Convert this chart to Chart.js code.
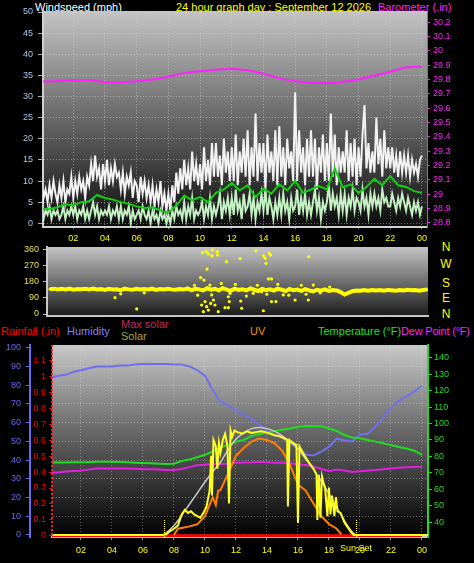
<!DOCTYPE html>
<html>
<head>
<meta charset="utf-8">
<script src="https://cdn.jsdelivr.net/npm/chart.js@4.4.1/dist/chart.umd.min.js"></script>
<style>
  body { margin: 0; background: #000; width: 474px; height: 563px; overflow: hidden; position: relative;
         font-family: "Liberation Sans", Arial, sans-serif; font-size: 11px; }
  canvas { position: absolute; left: 0; top: 0; }
  .t { position: absolute; white-space: nowrap; line-height: 12px; }
  .dir { position: absolute; left: 439px; width: 14px; text-align: center; color: #ffff00; font-size: 12px; line-height: 14px; }
</style>
</head>
<body>
<div class="t" style="left:35px;top:1px;color:#fff">Windspeed (mph)</div>
<div class="t" style="left:176px;top:1px;color:#ffff00">24 hour graph day : September 12 2026</div>
<div class="t" style="left:378px;top:1px;color:#ff20ff">Barometer (.in)</div>

<div class="dir" style="top:240px">N</div>
<div class="dir" style="top:257px">W</div>
<div class="dir" style="top:276px">S</div>
<div class="dir" style="top:291px">E</div>
<div class="dir" style="top:307px">N</div>

<div class="t" style="left:1px;top:325px;color:#ff0000">Rainfall (.in)</div>
<div class="t" style="left:67px;top:325px;color:#8080ff">Humidity</div>
<div class="t" style="left:121px;top:318px;color:#c8285a">Max solar</div>
<div class="t" style="left:121px;top:330px;color:#a8a830">Solar</div>
<div class="t" style="left:250px;top:325px;color:#ff8c00">UV</div>
<div class="t" style="left:318px;top:325px;color:#20e020">Temperature (°F)</div>
<div class="t" style="left:401px;top:325px;color:#ff20ff;letter-spacing:-0.2px">Dew Point (°F)</div>

<canvas id="wind" width="474" height="563"></canvas>
<canvas id="dir" width="474" height="563"></canvas>
<canvas id="weather" width="474" height="563"></canvas>

<script>
// ---- axis ticks ----
const hourTicks = [2, 4, 6, 8, 10, 12, 14, 16, 18, 20, 22, 24];
const windTicks = [0, 5, 10, 15, 20, 25, 30, 35, 40, 45, 50];
const baroTicks = [28.8, 28.9, 29, 29.1, 29.2, 29.3, 29.4, 29.5, 29.6, 29.7, 29.8, 29.9, 30, 30.1, 30.2];
const dirTicks = [0, 90, 180, 270, 360];
const humTicks = [0, 10, 20, 30, 40, 50, 60, 70, 80, 90, 100];
const rainTicks = [0, 0.1, 0.2, 0.3, 0.4, 0.5, 0.6, 0.7, 0.8, 0.9, 1, 1.1];
const tempTicks = [40, 50, 60, 70, 80, 90, 100, 110, 120, 130, 140];

// ---- wind (mph), 8 readings per hour ----
const windGust = [
  9, 6, 8, 5, 9, 6, 10, 7,
  5, 9, 6, 10, 5, 8, 7, 11,
  6, 10, 7, 11, 8, 10, 6, 11,
  9, 14, 10, 16, 11, 13, 8, 14,
  10, 15, 9, 13, 10, 14, 11, 12,
  8, 12, 7, 11, 9, 12, 6, 10,
  9, 5, 11, 7, 10, 6, 9, 5,
  9, 4, 8, 5, 10, 4, 7, 3,
  7, 3, 9, 5, 12, 7, 13, 8,
  15, 9, 13, 8, 17, 10, 14, 9,
  14, 8, 18, 10, 15, 9, 19, 11,
  19, 11, 16, 9, 20, 12, 17, 10,
  18, 10, 21, 9, 17, 12, 20, 11,
  22, 9, 18, 11, 26, 10, 19, 12,
  19, 8, 21, 12, 17, 10, 22, 9,
  23, 11, 18, 9, 20, 13, 17, 10,
  31, 10, 22, 12, 18, 9, 20, 11,
  22, 11, 20, 8, 18, 12, 21, 10,
  19, 10, 26, 11, 21, 9, 18, 12,
  17, 12, 22, 10, 19, 11, 20, 9,
  18, 11, 21, 28, 13, 19, 12, 17,
  12, 25, 14, 20, 11, 22, 13, 18,
  13, 18, 12, 16, 11, 17, 12, 16,
  12, 16, 11, 15, 12, 14, 11, 15,
  16
];
const windLull = [
  3, 1, 3, 2, 4, 1, 3, 2,
  3, 1, 2, 4, 1, 3, 2, 4,
  2, 4, 1, 3, 2, 4, 1, 3,
  1, 3, 5, 2, 4, 1, 3, 2,
  3, 2, 4, 1, 3, 2, 4, 1,
  4, 1, 3, 2, 4, 0, 3, 1,
  2, 3, 1, 4, 2, 1, 3, 0,
  3, 1, 2, 0, 3, 1, 2, 0,
  2, 0, 3, 1, 4, 2, 3, 1,
  5, 1, 4, 2, 6, 1, 3, 2,
  3, 5, 1, 4, 2, 6, 1, 4,
  2, 4, 7, 1, 5, 3, 6, 2,
  6, 2, 8, 3, 5, 1, 7, 3,
  4, 7, 2, 6, 1, 5, 3, 7,
  3, 8, 2, 6, 4, 1, 5, 2,
  6, 2, 7, 3, 5, 1, 6, 3,
  4, 8, 2, 6, 3, 7, 2, 5,
  2, 5, 8, 3, 6, 1, 5, 3,
  5, 9, 3, 7, 4, 6, 2, 7,
  3, 7, 2, 6, 4, 8, 3, 6,
  5, 3, 8, 4, 6, 2, 7, 4,
  7, 4, 6, 3, 8, 5, 6, 4,
  4, 7, 5, 3, 6, 4, 7, 5,
  3, 6, 4, 2, 5, 3, 5, 2,
  4
];
// average wind, every half hour
const windAvg = [3.5, 3.3, 3.8, 4.5, 4.2, 5.0, 5.2, 6.7, 6.0, 5.6, 5.0, 4.6, 4.0, 3.6, 3.8, 3.0, 2.5, 4.2, 6.5, 5.5,
  6.2, 5.0, 7.2, 8.0, 9.5, 7.8, 9.0, 6.2, 8.2, 7.0, 9.2, 7.8, 10.0, 7.2, 8.0, 8.8, 8.0, 13.0, 8.5, 9.2,
  7.2, 8.6, 10.5, 9.0, 11.2, 9.0, 8.6, 7.6, 7.2];
// barometer (.in), hourly
const baroHourly = [29.786, 29.79, 29.795, 29.795, 29.782, 29.78, 29.788, 29.80, 29.822, 29.845, 29.86, 29.868,
  29.876, 29.865, 29.84, 29.81, 29.79, 29.776, 29.775, 29.785, 29.80, 29.828, 29.855, 29.885, 29.89];

// ---- wind direction (deg), every 15 minutes ----
const dirBand = [
  138, 141, 136, 140, 137, 142, 135, 139, 138,
  140, 136, 141, 137, 139, 134, 140, 136,
  138, 133, 141, 137, 135, 140, 136, 139,
  137, 141, 134, 139, 136, 140, 137, 135,
  139, 136, 142, 133, 140, 137, 131, 143,
  135, 140, 132, 144, 136, 129, 141, 134,
  138, 131, 142, 135, 128, 140, 133, 137,
  130, 141, 135, 127, 139, 132, 136, 129,
  138, 131, 126, 135, 130, 137, 128, 133,
  131, 122, 108, 118, 127, 131, 129, 133,
  130, 134, 131, 133, 129, 134, 132, 130,
  133, 131, 135, 132, 134, 130, 133, 136
];
// scattered direction readings [hour, deg]
const dirOutliers = [
  [9.7, 341], [9.93, 347], [10.08, 334], [10.33, 356], [10.31, 323], [10.65, 347], [10.67, 328], [11.24, 291],
  [12.1, 308], [13.1, 352], [13.6, 323], [13.7, 310], [13.75, 282], [13.96, 338], [14.05, 328], [13.9, 195],
  [14.1, 195], [16.47, 319], [10.0, 250], [9.59, 202], [9.8, 189],
  [5.52, 28], [4.14, 91], [9.65, 50], [9.87, 69], [9.97, 41], [9.76, 13], [10.08, 22], [10.23, 59], [10.4, 78],
  [10.5, 50], [10.29, 106], [10.18, 161], [10.71, 13], [11.14, 35], [11.35, 35], [11.41, 69], [11.35, 96],
  [11.46, 115], [12.14, 72], [12.2, 32], [13.58, 18], [14.1, 69], [14.38, 69], [12.94, 115], [13.47, 124],
  [14.85, 106], [15.6, 78], [16.44, 78], [16.76, 161],
  [4.5, 112], [6.0, 118], [9.2, 160], [9.4, 105], [10.9, 170], [11.8, 165], [12.5, 100], [13.2, 160],
  [13.8, 110], [14.5, 165], [15.2, 105], [16.0, 160], [16.3, 110], [17.2, 118], [17.8, 150]
];

// ---- lower panel, every half hour ----
const humidity = [84, 85, 85.5, 87, 88, 89, 90, 90, 90, 90.5, 90.5, 91, 91.3, 91.3, 91.3, 91.3, 91, 91, 90, 88,
  85, 77.5, 71, 69.5, 66.5, 64.5, 62, 59, 55.5, 53, 52, 49, 46.5, 43, 42.5, 44.5, 47, 51.5, 50.5, 50,
  53.5, 54, 58, 62.5, 68, 71.5, 74, 76.5, 79.7];
const temperature = [76.4, 76.4, 76.4, 76.5, 76.5, 76.5, 76.8, 76.8, 76.8, 76.6, 76.5, 76.2, 76, 75.8, 75.6, 75.4,
  75.6, 77.2, 78.2, 79.5, 81, 83, 85.5, 87, 89, 90, 92.5, 93.5, 94.5, 95.5, 96.2, 97, 98, 98.5, 98.3, 98.5,
  97, 95.5, 93, 91.5, 91, 90, 89, 88, 87, 85.8, 84.8, 83.5, 81];
const dewPoint = [70.3, 70.3, 70.8, 71.2, 71.3, 72, 72.7, 72.7, 72.7, 72.7, 72.7, 72.5, 72.3, 72.3, 72, 71.7,
  71.8, 72.4, 73.5, 74.6, 75, 75.5, 75.4, 75.6, 76.2, 76.4, 76.5, 76.8, 76.5, 76.2, 76.2, 75.8, 75.3, 74.8,
  73.8, 72.5, 71, 72, 71.5, 70.6, 71, 71.5, 71.7, 72.2, 72.7, 73.1, 73.4, 73.6, 73.7];
// rainfall (.in), hourly
const rainfall = [0, 0, 0, 0, 0, 0, 0, 0, 0, 0, 0, 0, 0, 0, 0, 0, 0, 0, 0, 0, 0, 0, 0, 0, 0];

// solar radiation (W/m2)
const solarHours = [0, 7.25, 7.5, 7.75, 8.0, 8.25, 8.5, 8.7, 8.9, 9.1, 9.3, 9.5, 9.7, 9.9, 10.1, 10.3, 10.4, 10.45,
  10.55, 10.7, 10.8, 10.9, 11.0, 11.15, 11.3, 11.45, 11.55, 11.65, 11.75, 11.9, 12.1, 12.4, 12.7, 13.0, 13.3,
  13.6, 13.9, 14.2, 14.5, 14.8, 15.1, 15.3, 15.35, 15.45, 15.7, 15.9, 16.0, 16.1, 16.4, 16.7, 17.0, 17.2,
  17.25, 17.35, 17.45, 17.55, 17.65, 17.75, 17.9, 18.0, 18.1, 18.2, 18.35, 18.45, 18.55, 18.75, 19.0, 19.2,
  19.4, 19.6, 24.4];
const solar = [0, 0, 5, 25, 40, 60, 130, 160, 140, 150, 130, 120, 110, 140, 180, 280, 500, 250,
  600, 560, 420, 580, 520, 600, 640, 560, 200, 660, 620, 660, 650, 640, 655, 645, 650,
  655, 650, 640, 630, 625, 610, 600, 180, 600, 580, 570, 76, 560, 505, 460, 420, 380,
  95, 380, 110, 370, 330, 300, 120, 300, 130, 250, 120, 240, 150, 140, 80, 50,
  20, 0, 0];
const maxSolarHours = [7.25, 7.5, 8, 8.5, 9, 9.5, 10, 10.5, 11, 11.5, 12, 12.5, 13, 13.5, 14, 14.5, 15, 15.5,
  16, 16.5, 17, 17.5, 18, 18.5, 19, 19.5, 19.75];
const maxSolar = [0, 15, 60, 125, 195, 265, 335, 400, 460, 540, 605, 645, 672, 680, 672, 655, 625, 590,
  545, 480, 415, 340, 260, 175, 90, 20, 0];
const uvHours = [8.0, 8.25, 8.5, 9, 9.5, 10, 10.5, 10.7, 10.85, 11, 11.5, 12, 12.5, 13, 13.5, 14, 14.5, 15,
  15.5, 16, 16.5, 17, 17.5, 18, 18.5, 18.8];
const uv = [0, 0.4, 0.45, 0.55, 0.68, 1.2, 2.4, 1.9, 2.8, 2.85, 3.9, 5.0, 5.5, 5.9, 6.1, 6.0, 5.8, 5.3,
  4.4, 3.2, 2.8, 2.0, 1.2, 0.7, 0.4, 0.05];

const sunRise = 7.35;
const sunSet = 19.74;

// ---- helpers ----
Chart.defaults.font.family = '"Liberation Sans", Arial, sans-serif';
Chart.defaults.font.size = 9;
Chart.defaults.animation = false;

const series = (values, step) => values.map((v, i) => ({ x: i * step, y: v }));
const paired = (hours, values) => hours.map((h, i) => ({ x: h, y: values[i] }));
const setTicks = vals => scale => { scale.ticks = vals.map(v => ({ value: v })); };
const hourLabel = v => String(v % 24).padStart(2, '0');
const dotted = [1, 2];

function plotBg(stops) {
  return {
    id: 'plotBg',
    beforeDraw(chart) {
      const { ctx, chartArea: a } = chart;
      const g = ctx.createLinearGradient(0, a.top, 0, a.bottom);
      stops.forEach(([p, c]) => g.addColorStop(p, c));
      ctx.save();
      ctx.fillStyle = g;
      ctx.fillRect(a.left, a.top, a.right - a.left, a.bottom - a.top);
      ctx.restore();
    }
  };
}

const common = {
  responsive: false,
  events: [],
  elements: { point: { radius: 0 }, line: { tension: 0 } },
  plugins: { legend: { display: false }, tooltip: { enabled: false } }
};

// ---- top: wind speed + barometer ----
new Chart(document.getElementById('wind'), {
  type: 'line',
  data: {
    datasets: [
      { data: series(windAvg, 0.5), yAxisID: 'y', borderColor: '#10d010', borderWidth: 2 },
      { data: series(windLull, 1 / 8), yAxisID: 'y', borderColor: '#c4f0c4', borderWidth: 2 },
      { data: series(windGust, 1 / 8), yAxisID: 'y', borderColor: '#f2f2f2', borderWidth: 2 },
      { data: series(baroHourly, 1), yAxisID: 'yb', borderColor: '#ff20ff', borderWidth: 2, cubicInterpolationMode: 'monotone' }
    ]
  },
  options: {
    ...common,
    layout: { padding: { top: 11, bottom: 319, left: 0, right: 0 } },
    scales: {
      x: {
        type: 'linear', min: 0.088, max: 24.32,
        afterBuildTicks: setTicks(hourTicks),
        afterFit: s => { s.height = 17; },
        ticks: { color: '#ffff00', padding: 4, maxRotation: 0, autoSkip: false, callback: hourLabel },
        grid: { color: 'rgba(225,225,225,0.45)', tickLength: 2, tickColor: '#909090' },
        border: { color: '#d0d0d0', width: 2, dash: dotted }
      },
      y: {
        position: 'left', min: -0.88, max: 50.24,
        afterBuildTicks: setTicks(windTicks),
        afterFit: s => { s.width = 43; },
        ticks: { color: '#a8c8f0', padding: 5, autoSkip: false },
        grid: { color: 'rgba(225,225,225,0.45)', tickLength: 5, tickColor: '#b0b0b0' },
        border: { color: '#d0d0d0', width: 2, dash: dotted }
      },
      yb: {
        position: 'right', min: 28.77, max: 30.279,
        afterBuildTicks: setTicks(baroTicks),
        afterFit: s => { s.width = 47; },
        ticks: { color: '#ff20ff', padding: 3, autoSkip: false, callback: v => String(+v.toFixed(1)) },
        grid: { drawOnChartArea: false, tickLength: 3, tickColor: '#ff20ff' },
        border: { color: '#ff20ff', width: 1 }
      }
    }
  },
  plugins: [plotBg([[0, '#c4c4c4'], [0.5, '#686868'], [1, '#0c0c0c']])]
});

// ---- middle: wind direction ----
new Chart(document.getElementById('dir'), {
  type: 'line',
  data: {
    datasets: [
      { data: dirOutliers.map(([h, d]) => ({ x: h, y: d })), showLine: false, pointRadius: 1.6,
        pointBackgroundColor: '#ffff00', pointBorderWidth: 0 },
      { data: series(dirBand, 0.25), borderColor: '#ffff00', borderWidth: 4, pointRadius: 1.4,
        pointBackgroundColor: '#ffff00', pointBorderWidth: 0 }
    ]
  },
  options: {
    ...common,
    layout: { padding: { top: 247, bottom: 247, left: 0, right: 46 } },
    scales: {
      x: {
        type: 'linear', min: -0.19, max: 24.06,
        afterFit: s => { s.height = 0; },
        ticks: { display: false },
        grid: { display: false, drawTicks: false },
        border: { color: '#c8c8c8', width: 2 }
      },
      y: {
        position: 'left', min: -11.1, max: 372.8,
        afterBuildTicks: setTicks(dirTicks),
        afterFit: s => { s.width = 47; },
        ticks: { color: '#e0e040', padding: 4, autoSkip: false },
        grid: { drawOnChartArea: false, tickLength: 4, tickColor: '#c0c0c0' },
        border: { color: '#c8c8c8', width: 2 }
      }
    }
  },
  plugins: [plotBg([[0, '#c4c4c4'], [1, '#1a1a1a']])]
});

// ---- bottom: rain, humidity, solar, UV, temperature, dew point ----
const sunMarks = {
  id: 'sunMarks',
  afterDatasetsDraw(chart) {
    const { ctx, chartArea: a, scales: { x } } = chart;
    ctx.save();
    ctx.strokeStyle = '#ffff00';
    ctx.lineWidth = 1;
    ctx.setLineDash([1, 1]);
    [sunRise, sunSet].forEach(h => {
      const px = Math.round(x.getPixelForValue(h)) + 0.5;
      ctx.beginPath(); ctx.moveTo(px, a.bottom - 17); ctx.lineTo(px, a.bottom); ctx.stroke();
    });
    ctx.strokeStyle = '#ff2020';
    ctx.lineWidth = 2;
    ctx.setLineDash([2, 2]);
    ctx.beginPath(); ctx.moveTo(a.left, a.top); ctx.lineTo(a.left, a.bottom); ctx.stroke();
    ctx.setLineDash([]);
    ctx.fillStyle = '#ffff00';
    ctx.font = '9px "Liberation Sans", Arial, sans-serif';
    ctx.textAlign = 'center';
    ctx.textBaseline = 'middle';
    ctx.fillText('Sun Set', x.getPixelForValue(sunSet), a.bottom + 12);
    ctx.restore();
  }
};

new Chart(document.getElementById('weather'), {
  type: 'line',
  data: {
    datasets: [
      { data: paired(solarHours, solar), yAxisID: 'ySol', borderColor: '#ffff20', borderWidth: 2 },
      { data: paired(maxSolarHours, maxSolar), yAxisID: 'ySol', borderColor: '#c8c8c8', borderWidth: 1.5, cubicInterpolationMode: 'monotone' },
      { data: paired(uvHours, uv), yAxisID: 'yUV', borderColor: '#ff8000', borderWidth: 2 },
      { data: series(temperature, 0.5), yAxisID: 'yT', borderColor: '#20dd20', borderWidth: 2 },
      { data: series(dewPoint, 0.5), yAxisID: 'yT', borderColor: '#e020e0', borderWidth: 2 },
      { data: series(humidity, 0.5), yAxisID: 'yH', borderColor: '#7070ee', borderWidth: 2 },
      { data: series(rainfall, 1), yAxisID: 'yR', borderColor: '#ff0000', borderWidth: 3 }
    ]
  },
  options: {
    ...common,
    layout: { padding: { top: 345, bottom: 0, left: 0, right: 0 } },
    scales: {
      x: {
        type: 'linear', min: 0.129, max: 24.39,
        afterBuildTicks: setTicks(hourTicks),
        afterFit: s => { s.height = 26; },
        ticks: { color: '#ffff00', padding: 5, maxRotation: 0, autoSkip: false, callback: hourLabel },
        grid: { color: 'rgba(225,225,225,0.4)', tickLength: 3, tickColor: '#909090' },
        border: { color: '#c8c8c8', width: 2, dash: dotted }
      },
      yH: {
        position: 'left', weight: 2, min: -1.07, max: 101.44,
        afterBuildTicks: setTicks(humTicks),
        afterFit: s => { s.width = 30; },
        ticks: { color: '#6868f0', padding: 5, autoSkip: false },
        grid: { color: 'rgba(225,225,225,0.4)', tickLength: 4, tickColor: '#6868f0' },
        border: { color: '#6868f0', width: 2, dash: dotted }
      },
      yR: {
        position: 'left', weight: 1, min: -0.008, max: 1.199,
        afterBuildTicks: setTicks(rainTicks),
        afterFit: s => { s.width = 22; },
        ticks: { color: '#ff0000', padding: 3, autoSkip: false, callback: v => String(+v.toFixed(1)) },
        grid: { drawOnChartArea: false, tickLength: 3, tickColor: '#ff0000' },
        border: { display: false }
      },
      yT: {
        position: 'right', min: 31.07, max: 147.7,
        afterBuildTicks: setTicks(tempTicks),
        afterFit: s => { s.width = 46; },
        ticks: { color: '#20dd20', padding: 2, autoSkip: false },
        grid: { drawOnChartArea: false, tickLength: 4, tickColor: '#20dd20' },
        border: { color: '#20dd20', width: 2 }
      },
      ySol: { display: false, min: -12, max: 1200 },
      yUV: { display: false, min: -0.12, max: 12 }
    }
  },
  plugins: [plotBg([[0, '#c8c8c8'], [0.5, '#5e5e5e'], [1, '#000000']]), sunMarks]
});
</script>
</body>
</html>
